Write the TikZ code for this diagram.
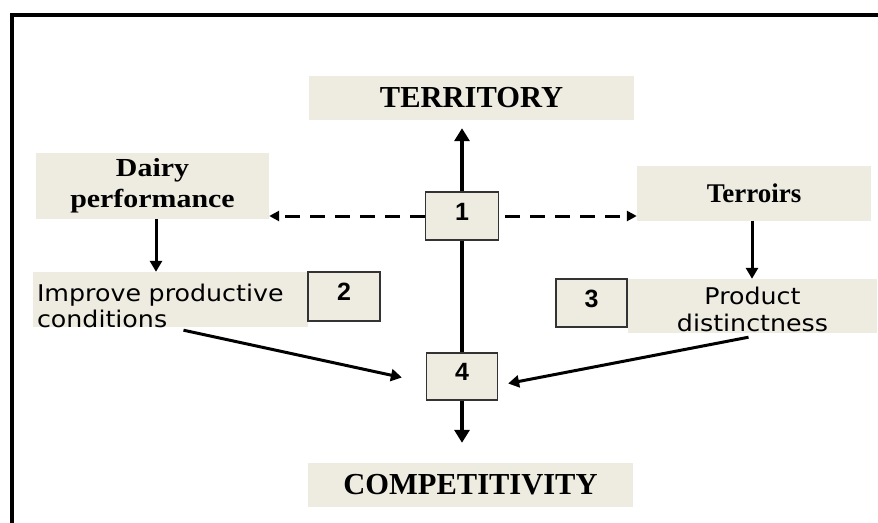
\documentclass[tikz,border=0pt]{standalone}
\usepackage{fontspec}
\setmainfont{Liberation Serif}
\newfontfamily\comicf[FakeStretch=1.1]{DejaVu Sans}
\newfontfamily\arialf{Liberation Sans}
\newfontfamily\stretchf[FakeStretch=1.15]{Liberation Serif}
\usetikzlibrary{arrows.meta,calc}
\definecolor{beige}{HTML}{EEECE1}
\begin{document}
\begin{tikzpicture}[x=1pt,y=-1pt,
  beigebox/.style={fill=beige, inner sep=4pt, text=black},
  numbox/.style={fill=beige, draw=black!80, line width=1.2pt, inner sep=0pt,
    font=\arialf\bfseries\fontsize{25}{25}\selectfont, text height=14pt, text depth=6pt},
  titlefont/.style={font=\bfseries\fontsize{30.5}{30.5}\selectfont},
  bigarrow/.style={line width=4pt, -{Triangle[width=15pt,length=13pt]}},
  midarrow/.style={line width=3pt, -{Triangle[width=12pt,length=11pt]}},
  dasharrow/.style={line width=3pt, dash pattern=on 15pt off 10pt, -{Triangle[width=10pt,length=10pt]}}
]
\useasboundingbox (0,0) rectangle (878,522);
\clip (0,0) rectangle (878,522);
\fill[white] (0,0) rectangle (878,522);
% frame
\draw[line width=3.5pt] (12,600) -- (12,15) -- (900,15);

% beige boxes
\node[beigebox, titlefont, minimum width=325pt, minimum height=44pt] (terr) at (471.5,98) {TERRITORY};
\node[beigebox, titlefont, minimum width=325pt, minimum height=44pt] (comp) at (470.5,485) {COMPETITIVITY};
\node[beigebox, minimum width=233pt, minimum height=66pt, align=center,
  font=\stretchf\bfseries\fontsize{26}{31}\selectfont] (dairy) at (152.5,186) {Dairy\\performance};
\node[beigebox, minimum width=234pt, minimum height=55pt,
  font=\bfseries\fontsize{27}{30}\selectfont] (terroirs) at (754,193) {Terroirs};
\node[beigebox, minimum width=275pt, minimum height=55pt] (improve) at (170.5,299.5) {};
\node[inner sep=0pt, text width=267pt, align=left, anchor=center,
  font=\comicf\fontsize{23}{26}\selectfont] (improvetext) at ([yshift=-6pt]improve.center) {Improve productive\\conditions};
\node[beigebox, minimum width=249pt, minimum height=54pt] (prod) at (752.5,306) {};
\node[inner sep=0pt, align=center, anchor=center,
  font=\comicf\fontsize{23}{27}\selectfont] (prodtext) at ([yshift=-3pt]prod.center) {Product\\distinctness};

% numbered boxes
\node[numbox, minimum width=73pt, minimum height=48pt] (b1) at (462,216) {1};
\node[numbox, minimum width=72pt, minimum height=49pt] (b2) at (344,296.5) {2};
\node[numbox, minimum width=71pt, minimum height=48pt] (b3) at (591.5,303) {3};
\node[numbox, minimum width=71pt, minimum height=47pt] (b4) at (462,376.5) {4};

% main axis
\draw[bigarrow, shorten >=8pt] (b1.north) -- (b1.north |- terr.south);
\draw[line width=4pt] (b1.south) -- (b4.north);
\draw[bigarrow, shorten >=20pt] (b4.south) -- (b4.south |- comp.north);

% dashed arrows
\draw[dasharrow] (b1.west) -- (b1.west -| dairy.east);
\draw[dasharrow, shorten <=6pt] (b1.east) -- (b1.east -| terroirs.west);

% vertical arrows
\draw[midarrow] ([xshift=3.5pt]dairy.south) -- ([xshift=3.5pt]dairy.south |- improve.north);
\draw[midarrow] ([xshift=-2pt]terroirs.south) -- ([xshift=-2pt]terroirs.south |- prod.north);

% diagonal arrows
\draw[midarrow] ([xshift=13pt,yshift=-3pt]improve.south) -- ([xshift=-24pt,yshift=-1pt]b4.west);
\draw[midarrow] ([xshift=-4pt,yshift=-4pt]prod.south) -- ([xshift=10pt,yshift=-7pt]b4.east);
\end{tikzpicture}
\end{document}
